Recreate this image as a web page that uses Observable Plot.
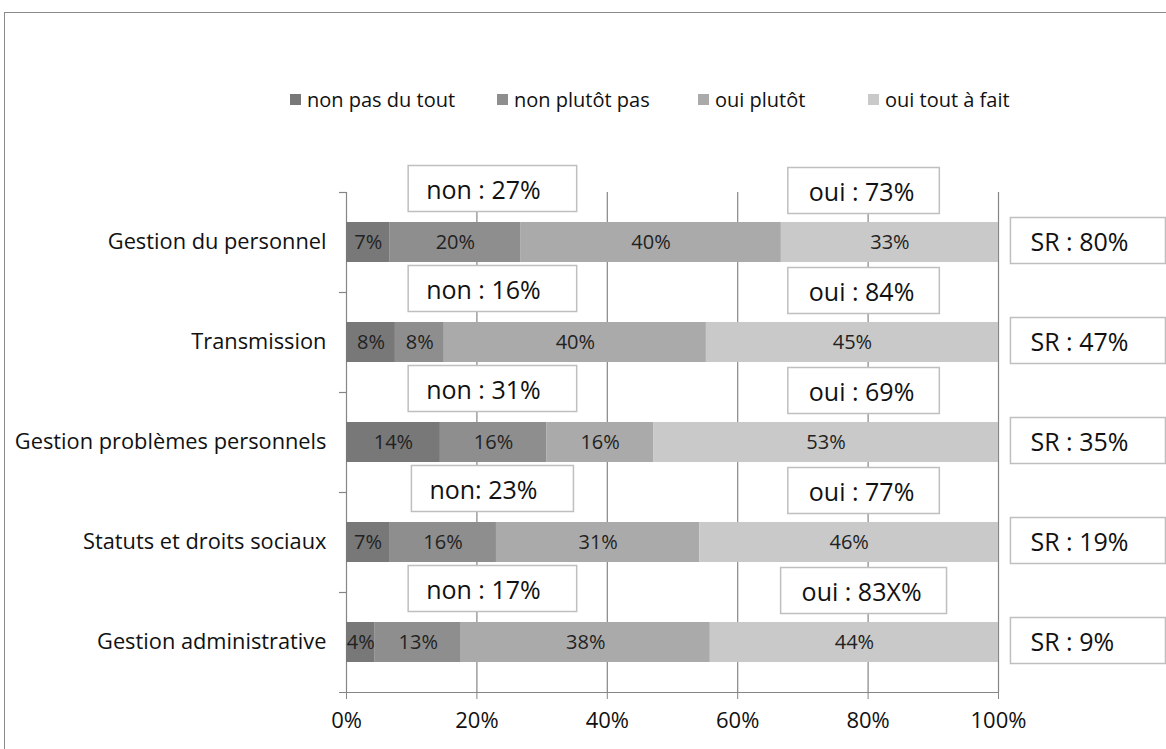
<!DOCTYPE html>
<html>
<head>
<meta charset="utf-8">
<script src="https://cdn.jsdelivr.net/npm/d3@7"></script>
<script src="https://cdn.jsdelivr.net/npm/@observablehq/plot@0.6"></script>
<style>
  html, body { margin: 0; padding: 0; background: #fff; overflow: hidden; }
  body { font-family: "Open Sans", sans-serif; width: 1166px; height: 749px; position: relative; }
  #frame { position: absolute; left: 4px; top: 12px; width: 1200px; height: 800px;
           border: 1.5px solid #8a8a8a; box-sizing: border-box; }
  #legend { position: absolute; left: 0; top: 86px; width: 1166px; height: 30px;
            font-size: 20px; color: #111; white-space: nowrap; }
  #legend .item { position: absolute; top: 0; display: flex; align-items: center; }
  #legend .sw { width: 11px; height: 11px; margin-right: 6px; }
  #chart { position: absolute; left: 0; top: 0; }
</style>
</head>
<body>
<div id="frame"></div>
<div id="legend"></div>
<div id="chart"></div>
<script>
// ---- data ----
const categories = ["Gestion du personnel", "Transmission", "Gestion problèmes personnels", "Statuts et droits sociaux", "Gestion administrative"];
const responses = ["non pas du tout", "non plutôt pas", "oui plutôt", "oui tout à fait"];
const nonPasDuTout = [6.7, 7.5, 14.4, 6.6, 4.4];
const nonPlutotPas = [20.0, 7.5, 16.3, 16.4, 13.2];
const ouiPlutot = [40.0, 40.2, 16.4, 31.2, 38.2];
const ouiToutAFait = [33.3, 44.8, 52.9, 45.8, 44.2];
const nonLabels = ["non : 27%", "non : 16%", "non : 31%", "non: 23%", "non : 17%"];
const ouiLabels = ["oui : 73%", "oui : 84%", "oui : 69%", "oui : 77%", "oui : 83X%"];
const srLabels = ["SR : 80%", "SR : 47%", "SR : 35%", "SR : 19%", "SR : 9%"];
const xTicks = [0, 0.2, 0.4, 0.6, 0.8, 1];
const colors = ["#787878", "#8e8e8e", "#aaaaaa", "#c9c9c9"];

const series = [nonPasDuTout, nonPlutotPas, ouiPlutot, ouiToutAFait];
const table = categories.flatMap((cat, i) =>
  series.map((s, j) => ({cat, resp: responses[j], value: s[i] / 100, label: Math.round(s[i]) + "%"}))
);

// ---- legend ----
const legendX = [290, 497, 698, 868];
const legend = document.getElementById("legend");
responses.forEach((r, j) => {
  const it = document.createElement("div");
  it.className = "item";
  it.style.left = legendX[j] + "px";
  const sw = document.createElement("div");
  sw.className = "sw";
  sw.style.background = colors[j];
  const tx = document.createElement("span");
  tx.textContent = r;
  it.append(sw, tx);
  legend.append(it);
});

const gridColor = "#868686";
const lastCat = [categories[categories.length - 1]];

const chart = Plot.plot({
  width: 1166,
  height: 749,
  marginLeft: 346,
  marginRight: 168,
  marginTop: 192,
  marginBottom: 57,
  style: {fontFamily: "Open Sans, sans-serif", background: "transparent", overflow: "visible"},
  x: {domain: [0, 1]},
  y: {domain: categories, paddingInner: 0.6, paddingOuter: 0.3},
  color: {domain: responses, range: colors},
  marks: [
    Plot.gridX(xTicks.slice(1), {stroke: gridColor, strokeOpacity: 1, strokeWidth: 1.2}),
    Plot.ruleX([0], {stroke: gridColor, strokeWidth: 1.2}),
    Plot.ruleY(categories, {y: d => d, x1: -0.0107, x2: 0, dy: -50, stroke: gridColor, strokeWidth: 1.2}),
    Plot.ruleY(lastCat, {y: d => d, x1: -0.0107, x2: 1, dy: 50, stroke: gridColor, strokeWidth: 1.2}),
    Plot.axisX({ticks: xTicks, tickFormat: d => Math.round(d * 100) + "%", tickSize: 7, tickPadding: 13,
                fontSize: 22, stroke: gridColor, fill: "#111", label: null}),
    Plot.axisY({tickSize: 0, tickPadding: 20, fontSize: 21.8, fill: "#111", label: null}),
    Plot.barX(table, {x: "value", y: "cat", fill: "resp"}),
    Plot.text(table, Plot.stackX({x: "value", y: "cat", z: "resp", text: "label", fontSize: 20, fill: "#222"})),
    Plot.text(categories, {y: d => d, x: 0.21, text: nonLabels, dy: -52, fontSize: 25, fill: "#111"}),
    Plot.text(categories, {y: d => d, x: 0.79, text: ouiLabels, dy: -50, fontSize: 25, fill: "#111"}),
    Plot.text(categories, {y: d => d, x: 1.049, text: srLabels, dy: 0, fontSize: 25, fill: "#111", textAnchor: "start"})
  ]
});

document.getElementById("chart").append(chart);

// white framed boxes behind the annotation texts
const NS = "http://www.w3.org/2000/svg";
const boxStyle = [
  [new Set(nonLabels), 18, 36, 0],
  [new Set(ouiLabels), 21, 25, 0],
  [new Set(srLabels), 20, 0, 155]
];
chart.querySelectorAll("text").forEach(t => {
  const st = boxStyle.find(s => s[0].has(t.textContent));
  if (!st) return;
  const [, padL, padR, minW] = st;
  const b = t.getBBox();
  const padY = 6;
  const w = Math.max(b.width + padL + padR, minW);
  const r = document.createElementNS(NS, "rect");
  r.setAttribute("x", b.x - padL);
  r.setAttribute("y", b.y - padY);
  r.setAttribute("width", w);
  r.setAttribute("height", b.height + 2 * padY);
  const tr = t.getAttribute("transform");
  if (tr) r.setAttribute("transform", tr);
  r.setAttribute("fill", "#fff");
  r.setAttribute("stroke", "#bfbfbf");
  r.setAttribute("stroke-width", "1.5");
  t.parentNode.insertBefore(r, t);
});
</script>
</body>
</html>
